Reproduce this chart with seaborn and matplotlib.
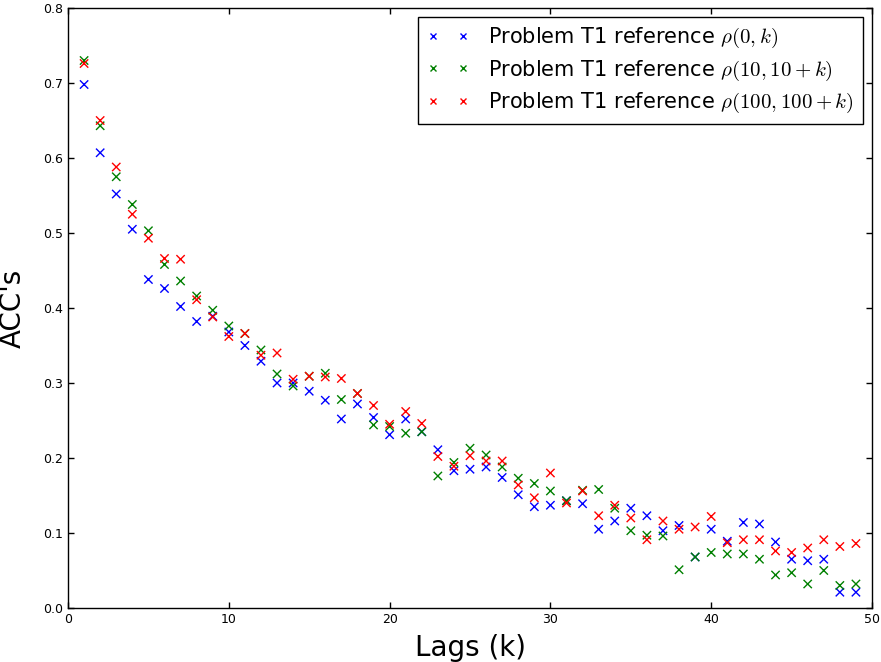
import numpy as np
import pandas as pd
import matplotlib
matplotlib.use("Agg")
import matplotlib.pyplot as plt
import seaborn as sns
from matplotlib.lines import Line2D

lags = list(range(1, 50))

acc_rho0 = [0.698, 0.607, 0.552, 0.505, 0.438, 0.426, 0.402, 0.382, 0.389, 0.368,
            0.350, 0.329, 0.300, 0.300, 0.289, 0.277, 0.252, 0.272, 0.254, 0.231,
            0.252, 0.235, 0.211, 0.183, 0.185, 0.188, 0.174, 0.151, 0.135, 0.137,
            0.143, 0.139, 0.105, 0.116, 0.133, 0.123, 0.103, 0.110, 0.068, 0.105,
            0.089, 0.114, 0.112, 0.088, 0.065, 0.063, 0.065, 0.021, 0.021]

acc_rho10 = [0.730, 0.643, 0.575, 0.538, 0.503, 0.458, 0.436, 0.416, 0.397, 0.376,
             0.366, 0.344, 0.312, 0.296, 0.309, 0.313, 0.278, 0.286, 0.244, 0.242,
             0.233, 0.235, 0.176, 0.194, 0.213, 0.204, 0.188, 0.173, 0.166, 0.156,
             0.143, 0.157, 0.158, 0.133, 0.103, 0.097, 0.096, 0.051, 0.068, 0.074,
             0.072, 0.072, 0.065, 0.044, 0.047, 0.032, 0.050, 0.030, 0.032]

acc_rho100 = [0.726, 0.650, 0.588, 0.525, 0.493, 0.466, 0.465, 0.411, 0.388, 0.362,
              0.366, 0.337, 0.340, 0.305, 0.309, 0.308, 0.306, 0.286, 0.270, 0.245,
              0.262, 0.246, 0.202, 0.189, 0.203, 0.196, 0.196, 0.164, 0.147, 0.180,
              0.140, 0.156, 0.123, 0.137, 0.120, 0.091, 0.116, 0.105, 0.108, 0.122,
              0.087, 0.091, 0.091, 0.076, 0.074, 0.080, 0.091, 0.082, 0.086]

labels = [r"Problem T1 reference $\rho(0,k)$",
          r"Problem T1 reference $\rho(10,10+k)$",
          r"Problem T1 reference $\rho(100,100+k)$"]
colors = ["#0000ff", "#008000", "#ff0000"]

df = pd.concat([
    pd.DataFrame({"lag": lags, "acc": vals, "series": lab})
    for vals, lab in zip([acc_rho0, acc_rho10, acc_rho100], labels)
], ignore_index=True)

sns.set_style("ticks")
plt.rcParams["mathtext.fontset"] = "cm"
plt.rcParams["font.family"] = ["DejaVu Sans"]
plt.rcParams["text.color"] = "black"
plt.rcParams["axes.labelcolor"] = "black"
plt.rcParams["xtick.color"] = "black"
plt.rcParams["ytick.color"] = "black"
plt.rcParams["xtick.direction"] = "in"
plt.rcParams["ytick.direction"] = "in"
plt.rcParams["xtick.top"] = True
plt.rcParams["ytick.right"] = True

fig = plt.figure(figsize=(8.81, 6.62), dpi=100)
ax = fig.add_axes([0.0772, 0.0816, 0.9126, 0.9063])

sns.scatterplot(data=df, x="lag", y="acc", hue="series", hue_order=labels,
                palette=colors, marker="x", s=36, linewidth=1.0, legend=False, ax=ax)

ax.set_xlim(0, 50)
ax.set_ylim(0, 0.8)
ax.set_xticks([0, 10, 20, 30, 40, 50])
ax.set_yticks(np.arange(0, 0.81, 0.1))
ax.set_yticklabels([f"{v:.1f}" for v in np.arange(0, 0.81, 0.1)])
ax.tick_params(axis="both", which="major", labelsize=9, length=4.5, width=1,
               color="black", labelcolor="black", direction="in", top=True, right=True)
for sp in ax.spines.values():
    sp.set_visible(True)
    sp.set_color("black")
    sp.set_linewidth(1.0)

ax.set_xlabel("Lags (k)", fontsize=20, labelpad=6, color="black")
ax.set_ylabel("ACC's", fontsize=20, labelpad=12, color="black")

handles = [Line2D([], [], linestyle="none", marker="x", color=c, ms=4.5, mew=1.0)
           for c in colors]
leg = ax.legend(handles, labels, loc="upper right", numpoints=2, fontsize=15,
                frameon=True, fancybox=False, edgecolor="black", framealpha=1,
                borderaxespad=0.45, handlelength=2.04, handletextpad=0.9,
                labelspacing=0.4, borderpad=0.42)
leg.get_frame().set_linewidth(1.0)
for t in leg.get_texts():
    t.set_color("black")

fig.savefig("out.png", dpi=100)
